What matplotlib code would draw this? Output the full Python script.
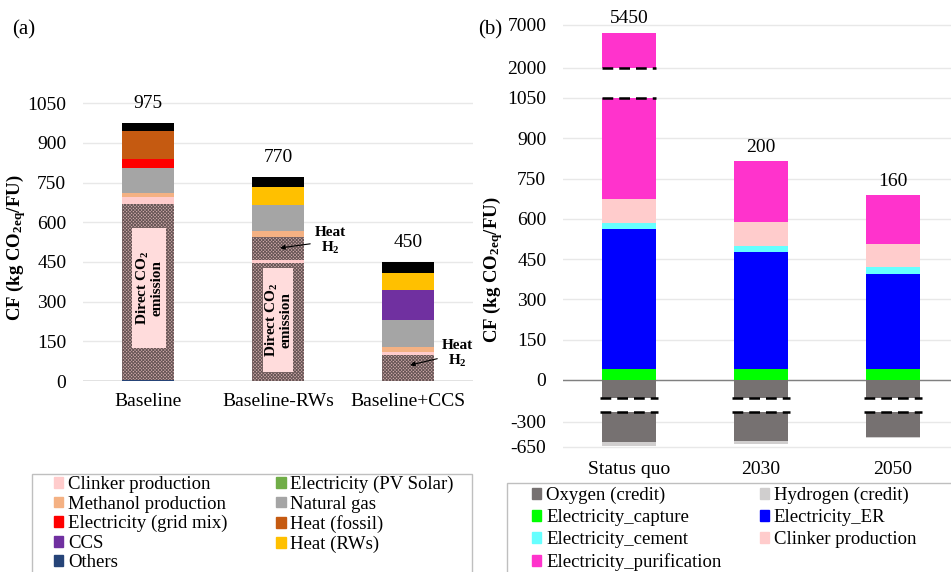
import numpy as np
import matplotlib.pyplot as plt
from matplotlib.patches import Patch, Rectangle

plt.rcParams['font.family'] = ['Liberation Serif', 'DejaVu Serif']
plt.rcParams['mathtext.default'] = 'regular'
plt.rcParams['hatch.linewidth'] = 0.7

# ---- (a) baseline scenarios, kg CO2eq/FU ----
scenarios_a = ['Baseline', 'Baseline-RWs', 'Baseline+CCS']
others = [3, 0, 0]
direct_co2 = [665, 445, 98]
clinker_a = [27, 13, 12]
heat_h2 = [0, 88, 0]
methanol = [15, 20, 19]
natural_gas = [97, 100, 100]
grid_mix = [34, 0, 0]
heat_fossil = [105, 0, 0]
ccs = [0, 0, 116]
heat_rws = [0, 66, 63]
other_inputs = [29, 38, 42]
pv_solar = [0, 0, 0]

# ---- (b) electro-reduction route ----
scenarios_b = ['Status quo', '2030', '2050']
elec_capture = [40, 40, 40]
elec_er = [523, 435, 356]
elec_cement = [22, 25, 24]
clinker_b = [87, 87, 85]
elec_purification = [5414, 228, 183]
oxygen_credit = [-588, -570, -510]
hydrogen_credit = [-48, -45, -18]

yticks_b = [-650, -300, 0, 150, 300, 450, 600, 750, 900, 1050, 2000, 7000]
break_hi = (1050, 2000)
break_lo = (-227, -133)

HATCH = 'hatched'
colors = {
    'clinker': '#ffcccc', 'methanol': '#f4b183', 'grid': '#ff0000',
    'ccs': '#7030a0', 'others': '#264478', 'pv': '#70ad47',
    'gas': '#a5a5a5', 'fossil': '#c55a11', 'rws': '#ffc000',
    'oxygen': '#767171', 'hydrogen': '#d0cece', 'capture': '#00ff00',
    'er': '#0000ff', 'cement': '#66ffff', 'purif': '#ff33cc',
}

fig = plt.figure(figsize=(9.51, 5.72), dpi=100)
W, H = 951, 572
ax_a = fig.add_axes([83 / W, (H - 381) / H, 390 / W, 290.9 / H])
ax_b = fig.add_axes([563 / W, (H - 449.5) / H, 388 / W, 433.1 / H])


def stack(ax, x, layers, width, bottom):
    for vals, col in layers:
        vals = np.asarray(vals, dtype=float)
        if col == HATCH:
            ax.bar(x, vals, width, bottom=bottom, color='#d2adad',
                   edgecolor='#665555', hatch='xxxxxxxxxx', linewidth=0, zorder=2)
        else:
            ax.bar(x, vals, width, bottom=bottom, color=col, linewidth=0, zorder=2)
        bottom = bottom + vals
    return bottom


# ---------------- panel (a) ----------------
xa = np.arange(len(scenarios_a))
layers_a = [
    (others, colors['others']), (direct_co2, HATCH), (clinker_a, colors['clinker']),
    (heat_h2, HATCH), (methanol, colors['methanol']), (natural_gas, colors['gas']),
    (grid_mix, colors['grid']), (heat_fossil, colors['fossil']), (ccs, colors['ccs']),
    (heat_rws, colors['rws']), (other_inputs, '#000000'),
]
tops_a = stack(ax_a, xa, layers_a, 0.4, np.zeros(len(xa)))
for x, t in zip(xa, tops_a):
    ax_a.annotate(f'{t:.0f}', (x, t), xytext=(0, 8), textcoords='offset points',
                  ha='center', va='bottom', fontsize=14)

# label boxes on the direct CO2 blocks
for x, y0, y1, w in [(0.008, 125, 578, 0.26), (1.0, 35, 426, 0.235)]:
    ax_a.add_patch(Rectangle((x - w / 2, y0), w, y1 - y0, facecolor='#ffdcdc',
                             edgecolor='none', zorder=3))
    ax_a.text(x, (y0 + y1) / 2, 'Direct CO$_2$\nemission', rotation=90, ha='center',
              va='center', fontsize=11, fontweight='bold', linespacing=1.0, zorder=4)

arrow = dict(arrowstyle='-|>', color='black', lw=0.8, mutation_scale=7, shrinkA=1, shrinkB=0)
ax_a.annotate('Heat\nH$_2$', xy=(1.015, 503), xytext=(1.4, 529), ha='center', va='center',
              fontsize=11, fontweight='bold', linespacing=1.1, arrowprops=arrow, zorder=5)
ax_a.annotate('Heat\nH$_2$', xy=(2.015, 60), xytext=(2.377, 102), ha='center', va='center',
              fontsize=11, fontweight='bold', linespacing=1.1, arrowprops=arrow, zorder=5,
              annotation_clip=False)

ax_a.set_xlim(-0.5, 2.5)
ax_a.set_ylim(0, 1100)
ax_a.set_yticks(range(0, 1051, 150))
ax_a.set_xticks(xa, scenarios_a)
ax_a.axhline(0, color='#808080', lw=1, zorder=1.5)

# ---------------- panel (b): broken value axis ----------------
knot_vals = [-1000, -650, -300, 0, 1050, 2000, 7000, 12000]
knot_pos = [-341.3, -248.3, -155.3, 0, 1050, 1161.6, 1321.7, 1481.8]


def fwd(v):
    return np.interp(v, knot_vals, knot_pos)


def inv(p):
    return np.interp(p, knot_pos, knot_vals)


ax_b.set_yscale('function', functions=(fwd, inv))
xb = np.arange(len(scenarios_b))
wb = 0.41
layers_pos = [
    (elec_capture, colors['capture']), (elec_er, colors['er']),
    (elec_cement, colors['cement']), (clinker_b, colors['clinker']),
    (elec_purification, colors['purif']),
]
layers_neg = [(oxygen_credit, colors['oxygen']), (hydrogen_credit, colors['hydrogen'])]
tops_b = stack(ax_b, xb, layers_pos, wb, np.zeros(len(xb)))
lows_b = stack(ax_b, xb, layers_neg, wb, np.zeros(len(xb)))

dash = (0, (4.3, 2.4))
for x, t in zip(xb, tops_b):
    if t > break_hi[1]:
        ax_b.bar(x, break_hi[1] - break_hi[0], wb, bottom=break_hi[0], color='white',
                 linewidth=0, zorder=3)
        ax_b.hlines(break_hi, x - wb / 2, x + wb / 2, colors='black', linestyles=dash,
                    lw=1.8, zorder=4)
    ax_b.bar(x, break_lo[1] - break_lo[0], wb * 1.05, bottom=break_lo[0], color='white',
             linewidth=0, zorder=3)
    ax_b.hlines(break_lo, x - wb * 0.53, x + wb * 0.53, colors='black', linestyles=dash,
                lw=1.8, zorder=4)

for x, t, n in zip(xb, tops_b, tops_b + lows_b):
    ax_b.annotate(f'{n:.0f}', (x, t), xytext=(0, 4), textcoords='offset points',
                  ha='center', va='bottom', fontsize=14, annotation_clip=False)

ax_b.set_xlim(-0.5, 2.44)
ax_b.set_ylim(-690, 8000)
ax_b.set_yticks(yticks_b, [str(v) for v in yticks_b])
ax_b.yaxis.set_minor_locator(plt.NullLocator())
ax_b.set_xticks(xb, scenarios_b)
ax_b.axhline(0, color='#808080', lw=1, zorder=1.5)

# ---------------- shared styling ----------------
for ax, xpad, lx, ly in [(ax_a, 9, -0.141, 0.457), (ax_b, 8, -0.149, 0.416)]:
    for s in ax.spines.values():
        s.set_visible(False)
    ax.set_axisbelow(True)
    ax.grid(axis='y', color='#e8e8e8', lw=1)
    ax.tick_params(axis='both', length=0, labelsize=14)
    ax.tick_params(axis='y', pad=12)
    ax.tick_params(axis='x', pad=xpad)
    ax.set_ylabel('CF (kg CO$_{2eq}$/FU)', fontsize=13.5, fontweight='bold')
    ax.yaxis.set_label_coords(lx, ly)

fig.text(24 / W, 1 - 30 / H, '(a)', fontsize=15, ha='center', va='center')
fig.text(490 / W, 1 - 30 / H, '(b)', fontsize=15, ha='center', va='center')

# ---------------- legends ----------------
leg_a = [('Clinker production', colors['clinker']), ('Methanol production', colors['methanol']),
         ('Electricity (grid mix)', colors['grid']), ('CCS', colors['ccs']),
         ('Others', colors['others']), ('Electricity (PV Solar)', colors['pv']),
         ('Natural gas', colors['gas']), ('Heat (fossil)', colors['fossil']),
         ('Heat (RWs)', colors['rws'])]
leg_b = [('Oxygen (credit)', colors['oxygen']), ('Electricity_capture', colors['capture']),
         ('Electricity_cement', colors['cement']), ('Electricity_purification', colors['purif']),
         ('Hydrogen (credit)', colors['hydrogen']), ('Electricity_ER', colors['er']),
         ('Clinker production', colors['clinker'])]

for items, x0, y0, colsp, lsp in [(leg_a, 54, 476, 2.6, 0.13), (leg_b, 532, 487, 2.05, 0.26)]:
    fig.legend([Patch(color=c) for _, c in items], [t for t, _ in items],
               loc='upper left', bbox_to_anchor=(x0 / W, 1 - y0 / H), ncol=2,
               frameon=False, fontsize=13.5, handlelength=0.5, handleheight=0.5,
               handletextpad=0.25, columnspacing=colsp, labelspacing=lsp,
               borderpad=0, borderaxespad=0)

fig.add_artist(Rectangle((31.7 / W, -0.05), 440 / W, (H - 474) / H + 0.05,
                         transform=fig.transFigure, fill=False, edgecolor='#bfbfbf', lw=1))
fig.add_artist(Rectangle((506.7 / W, -0.05), 0.5, (H - 483.3) / H + 0.05,
                         transform=fig.transFigure, fill=False, edgecolor='#bfbfbf', lw=1))

fig.savefig('out.png', dpi=100)
